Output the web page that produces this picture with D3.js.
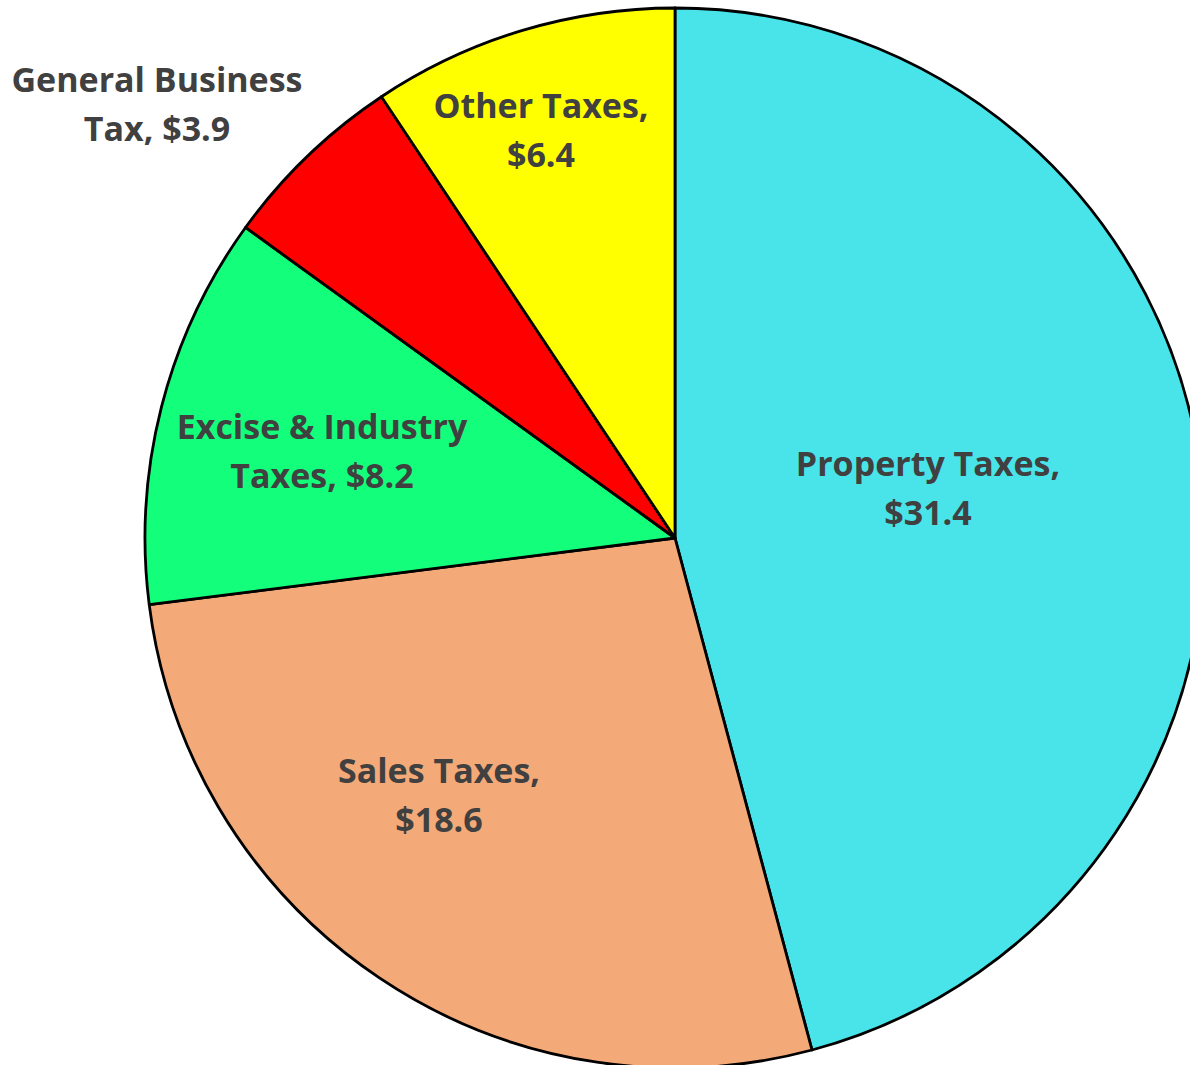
<!DOCTYPE html>
<html><head><meta charset="utf-8">
<script src="https://cdn.jsdelivr.net/npm/d3@7"></script>
<style>html,body{margin:0;padding:0;background:#fff;overflow:hidden}</style>
</head><body>
<svg id="chart" width="1190" height="1065"></svg>
<script>
const categories = ["Property Taxes", "Sales Taxes", "Excise & Industry Taxes", "General Business Tax", "Other Taxes"];
const values = [31.4, 18.6, 8.2, 3.9, 6.4];
const colors = ["#49E4E9", "#F4A978", "#13FF7B", "#FF0000", "#FFFF00"];
const labelLines = [
  ["Property Taxes,", "$31.4"],
  ["Sales Taxes,", "$18.6"],
  ["Excise & Industry", "Taxes, $8.2"],
  ["General Business", "Tax, $3.9"],
  ["Other Taxes,", "$6.4"]
];
// label layout (pixel center x, baseline y of first line)
const labelPos = [[928, 476], [439, 783], [322, 439], [157, 92], [541, 118]];

const svg = d3.select("#chart");
const cx = 675, cy = 538, R = 530;
const g = svg.append("g").attr("transform", `translate(${cx},${cy})`);
const pie = d3.pie().sort(null).value(d => d);
const arc = d3.arc().innerRadius(0).outerRadius(R);
const data = pie(values);
g.selectAll("path").data(data).enter().append("path")
  .attr("d", arc)
  .attr("fill", (d, i) => colors[i])
  .attr("stroke", "#000").attr("stroke-width", 2.8).attr("stroke-linejoin", "round");

const lab = svg.append("g").attr("font-family", "'Open Sans', sans-serif")
  .attr("font-weight", "bold").attr("font-size", 34).attr("fill", "#404040")
  .attr("text-anchor", "middle");
labelLines.forEach((lines, i) => {
  const t = lab.append("text").attr("x", labelPos[i][0]).attr("y", labelPos[i][1]);
  lines.forEach((ln, j) => {
    t.append("tspan").attr("x", labelPos[i][0]).attr("dy", j === 0 ? 0 : 49).text(ln);
  });
});
</script>
</body></html>
